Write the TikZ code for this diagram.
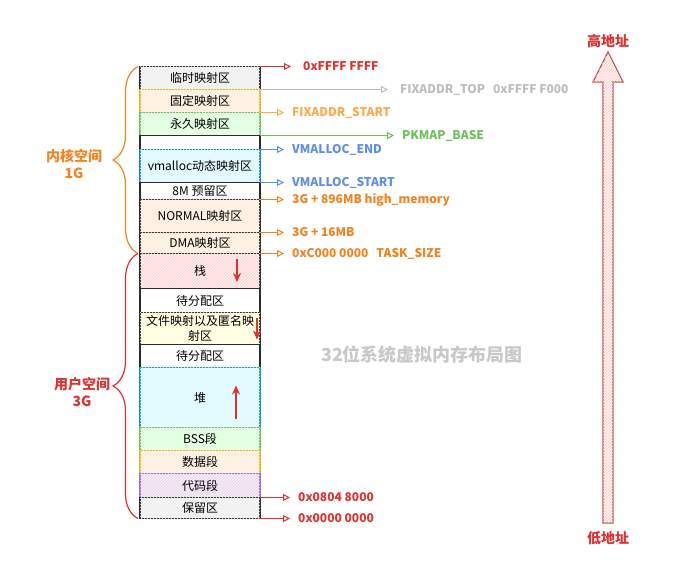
\documentclass[tikz,border=0pt]{standalone}
\usepackage{fontspec}
\setmainfont{Noto Sans CJK SC}
\usetikzlibrary{arrows.meta,positioning,decorations.pathreplacing,patterns}

\definecolor{linea}{HTML}{2B2B2B}
\definecolor{rojo}{HTML}{E03131}
\definecolor{naranja}{HTML}{F5821F}
\definecolor{naranjaclaro}{HTML}{FFA94D}
\definecolor{gris}{HTML}{BDBDBD}
\definecolor{grisclaro}{HTML}{8C8C8C}
\definecolor{verde}{HTML}{6FBF5A}
\definecolor{azul}{HTML}{5C8EE6}
\definecolor{oro}{HTML}{E6B422}
\definecolor{azulfuerte}{HTML}{1C7ED6}
\definecolor{turquesa}{HTML}{1098AD}
\definecolor{morado}{HTML}{9C6ADE}
\definecolor{flecha}{HTML}{B5554C}
\definecolor{titulo}{HTML}{C8C8C8}

\begin{document}
\begin{tikzpicture}[x=1pt,y=-1pt,
         seg/.style={rectangle,draw=linea,line width=1.5pt,minimum width=120pt,inner sep=0pt,outer sep=0pt,
                     font=\fontsize{12}{15}\selectfont},
         rayado/.style={fill=#1!7,postaction={pattern=north east lines,pattern color=#1!18}},
         addr/.style={inner sep=0pt,font=\bfseries\fontsize{12}{14}\selectfont},
         addrseta/.style={-{Triangle[open,length=7pt,width=7pt]},line width=1pt,shorten >=8pt},
         crece/.style={-{Stealth[length=9pt,width=8pt]},line width=1.6pt,draw=rojo},
         llave/.style={decorate,decoration={brace,amplitude=25pt},line width=1.2pt},
         espacio/.style={align=center,font=\bfseries\fontsize{14}{17}\selectfont}]
        \useasboundingbox (0,0) rectangle (689,573);
        % kernel space
        \node [seg,rayado=grisclaro,minimum height=23pt,anchor=north west] (linshi) at (140,66.5) {临时映射区};
        \node [seg,rayado=orange,draw=oro,minimum height=23pt,below=0pt of linshi] (guding) {固定映射区};
        \node [seg,rayado=green,draw=verde,minimum height=23pt,below=0pt of guding] (yongjiu) {永久映射区};
        \node [seg,fill=white,minimum height=14pt,below=0pt of yongjiu] (hueco) {};
        \node [seg,rayado=cyan,draw=azulfuerte,minimum height=33pt,below=0pt of hueco] (vmalloc) {vmalloc动态映射区};
        \node [seg,fill=white,minimum height=17pt,below=0pt of vmalloc] (yuliu) {8M 预留区};
        \node [seg,rayado=orange,minimum height=33pt,below=0pt of yuliu] (normal) {NORMAL映射区};
        \node [seg,rayado=orange,minimum height=21pt,below=0pt of normal] (dma) {DMA映射区};
        % user space
        \node [seg,rayado=red,minimum height=35pt,below=0pt of dma] (zhan) {栈};
        \node [seg,fill=white,minimum height=24pt,below=0pt of zhan] (daifen1) {待分配区};
        \node [seg,rayado=yellow,minimum height=32pt,text width=118pt,align=center,below=0pt of daifen1] (mmap) {文件映射以及匿名映\\射区};
        \node [seg,fill=white,minimum height=23pt,below=0pt of mmap] (daifen2) {待分配区};
        \node [seg,rayado=cyan,draw=turquesa,minimum height=60pt,below=0pt of daifen2] (dui) {堆};
        \node [seg,rayado=green,draw=verde,minimum height=23pt,below=0pt of dui] (bss) {BSS段};
        \node [seg,rayado=orange,draw=oro,minimum height=23pt,below=0pt of bss] (shuju) {数据段};
        \node [seg,rayado=violet,draw=morado,minimum height=24pt,below=0pt of shuju] (daima) {代码段};
        \node [seg,rayado=grisclaro,minimum height=21pt,below=0pt of daima] (baoliu) {保留区};

        % addresses
        \node [addr,text=rojo] (ffff) [right=43pt of linshi.north east] {0xFFFF FFFF};
        \node [addr,text=gris] (fixtop) [right=140pt of guding.north east] {FIXADDR\_TOP\hspace{8pt}0xFFFF F000};
        \node [addr,text=naranjaclaro] (fixstart) [right=32pt of yongjiu.north east] {FIXADDR\_START};
        \node [addr,text=verde] (pkmap) [right=142pt of yongjiu.south east] {PKMAP\_BASE};
        \node [addr,text=azul] (vmend) [right=32pt of vmalloc.north east] {VMALLOC\_END};
        \node [addr,text=azul] (vmstart) [right=32pt of vmalloc.south east] {VMALLOC\_START};
        \node [addr,text=naranja] (highmem) [right=32pt of yuliu.south east] {3G + 896MB high\_memory};
        \node [addr,text=naranja] (dma16) [right=32pt of normal.south east] {3G + 16MB};
        \node [addr,text=naranja] (tasksize) [right=32pt of dma.south east] {0xC000 0000\hspace{8pt}TASK\_SIZE};
        \node [addr,text=rojo] (codestart) [right=38pt of daima.south east] {0x0804 8000};
        \node [addr,text=rojo] (cero) [right=38pt of baoliu.south east] {0x0000 0000};
        \draw [addrseta,draw=rojo,shorten >=12pt] (linshi.north east) -- (ffff.west);
        \draw [addrseta,draw=gris,shorten >=12pt] (guding.north east) -- (fixtop.west);
        \draw [addrseta,draw=naranjaclaro] (yongjiu.north east) -- (fixstart.west);
        \draw [addrseta,draw=verde] (yongjiu.south east) -- (pkmap.west);
        \draw [addrseta,draw=azul] (vmalloc.north east) -- (vmend.west);
        \draw [addrseta,draw=azul] (vmalloc.south east) -- (vmstart.west);
        \draw [addrseta,draw=naranja] (yuliu.south east) -- (highmem.west);
        \draw [addrseta,draw=naranja] (normal.south east) -- (dma16.west);
        \draw [addrseta,draw=naranja] (dma.south east) -- (tasksize.west);
        \draw [addrseta,draw=rojo] (daima.south east) -- (codestart.west);
        \draw [addrseta,draw=rojo] (baoliu.south east) -- (cero.west);

        % growth directions
        \coordinate (zhanA) at ([xshift=37pt,yshift=12pt]zhan.center);
        \coordinate (zhanB) at ([xshift=37pt,yshift=-11pt]zhan.center);
        \coordinate (mmapA) at ([xshift=57pt,yshift=11pt]mmap.center);
        \coordinate (mmapB) at ([xshift=57pt,yshift=-11pt]mmap.center);
        \coordinate (duiA) at ([xshift=36pt,yshift=-21pt]dui.center);
        \coordinate (duiB) at ([xshift=36pt,yshift=12pt]dui.center);
        \draw [crece] (zhanA) -- (zhanB);
        \draw [crece] (mmapA) -- (mmapB);
        \draw [crece] (duiA) -- (duiB);

        % braces
        \draw [llave,draw=naranja] ([xshift=-2pt]dma.south west) -- ([xshift=-2pt]linshi.north west);
        \draw [llave,draw=rojo] ([xshift=-2pt]baoliu.south west) -- ([xshift=-2pt]zhan.north west);
        \node [espacio,text=naranja] (kernel) at (74,164) {内核空间\\1G};
        \node [espacio,text=rojo] (user) at (82,392) {用户空间\\3G};

        % title and address direction
        \node [font=\bfseries\fontsize{18}{20}\selectfont,text=titulo] (title) at (422,355) {32位系统虚拟内存布局图};
        \draw [flecha,line width=1.2pt,fill=red!5,postaction={pattern=north east lines,pattern color=red!20}]
              (608,52) -- (623,82) -- (613,82) -- (613,523)
              -- (603,523) -- (603,82) -- (593,82) -- cycle;
        \node [espacio,text=rojo] (alto) at (608,41) {高地址};
        \node [espacio,text=rojo] (bajo) at (608,538) {低地址};
\end{tikzpicture}
\end{document}
